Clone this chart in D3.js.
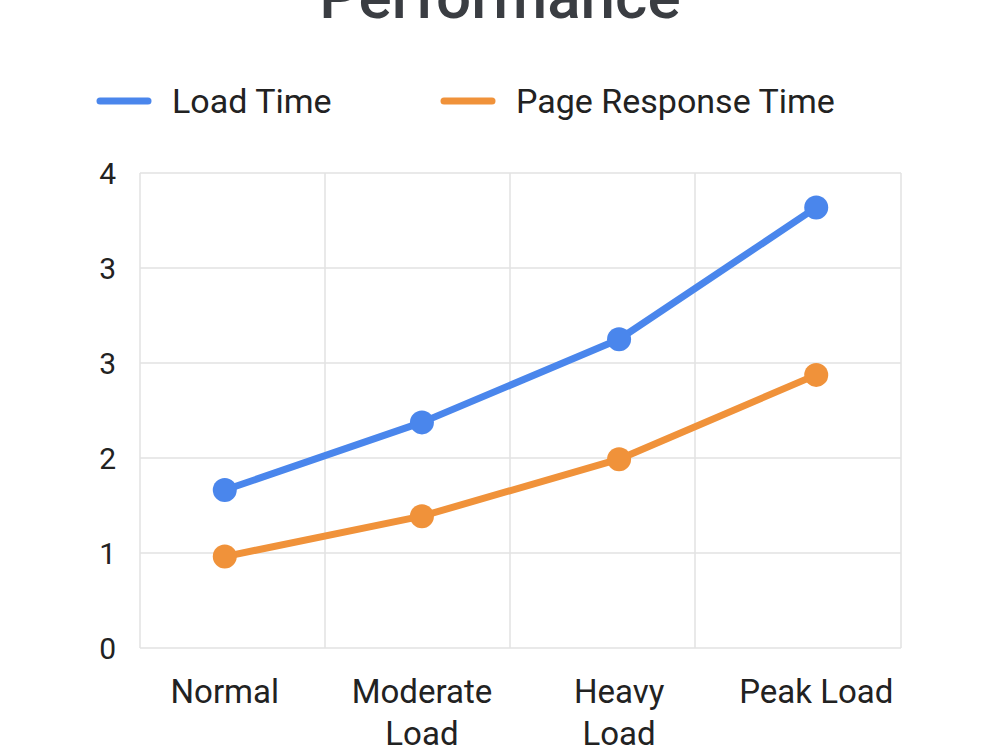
<!DOCTYPE html>
<head>
  <meta charset="utf-8">
  <script src="https://d3js.org/d3.v7.min.js"></script>
  <style>
    body { margin: 0; background: #fff; }
    svg { width: 1000px; height: 750px; font-family: Roboto, "Noto Sans", sans-serif; }
  </style>
</head>
<body>
  <svg></svg>
  <script>
    var categories = [['Normal'], ['Moderate', 'Load'], ['Heavy', 'Load'], ['Peak Load']];
    var loadTime = [1.33, 1.90, 2.60, 3.71];
    var pageResponse = [0.77, 1.11, 1.59, 2.30];
    var yTicks = [0, 0.8, 1.6, 2.4, 3.2, 4.0];
    var yTickLabels = ['0', '1', '2', '3', '3', '4'];
    var seriesNames = ['Load Time', 'Page Response Time'];
    var colors = ['#4a86ec', '#f0923a'];

    var svg = d3.select('svg');
    var plotL = 140, plotR = 901, plotT = 173, plotB = 648;

    var catNames = categories.map(function(c) { return c.join(' '); });
    var x = d3.scalePoint().domain(catNames).range([plotL, plotR]).padding(0.43);
    // vertical grid follows its own band spacing, border closes the box
    var xBand = d3.scaleBand().domain(catNames).range([plotL, 880]);
    var y = d3.scaleLinear().domain([0, 4]).range([plotB, plotT]);

    // title (clipped at the top)
    svg.append('text')
      .attr('x', 500).attr('y', 18)
      .attr('text-anchor', 'middle')
      .attr('font-size', 62).attr('font-weight', 500)
      .attr('fill', '#3a3d42')
      .text('Performance');

    // legend
    var legendX = [97, 441];
    seriesNames.forEach(function(name, i) {
      var g = svg.append('g').attr('transform', 'translate(' + legendX[i] + ',101)');
      g.append('line').attr('x1', 3).attr('x2', 51)
        .attr('stroke', colors[i]).attr('stroke-width', 7).attr('stroke-linecap', 'round');
      g.append('text').attr('x', 75).attr('y', 12)
        .attr('font-size', 34).attr('fill', '#222').text(name);
    });

    // grid
    var grid = svg.append('g').attr('stroke', '#e2e2e2').attr('stroke-width', 1.5);
    yTicks.forEach(function(t) {
      grid.append('line').attr('x1', plotL).attr('x2', plotR).attr('y1', y(t)).attr('y2', y(t));
    });
    catNames.forEach(function(c) {
      grid.append('line').attr('x1', xBand(c)).attr('x2', xBand(c)).attr('y1', plotT).attr('y2', plotB);
    });
    grid.append('line').attr('x1', plotR).attr('x2', plotR).attr('y1', plotT).attr('y2', plotB);

    // y labels
    svg.append('g').selectAll('text').data(yTicks).enter().append('text')
      .attr('x', 116).attr('y', function(d) { return y(d) + 11; })
      .attr('text-anchor', 'end').attr('font-size', 30).attr('fill', '#222')
      .text(function(d, i) { return yTickLabels[i]; });

    // x labels
    var xl = svg.append('g').selectAll('text').data(categories).enter().append('text')
      .attr('text-anchor', 'middle').attr('font-size', 33).attr('fill', '#222')
      .attr('transform', function(d) { return 'translate(' + x(d.join(' ')) + ',703)'; });
    xl.selectAll('tspan').data(function(d) { return d; })
      .enter().append('tspan')
      .attr('x', 0).attr('y', function(d, i) { return i * 42; })
      .text(function(d) { return d; });

    // lines and markers
    var line = d3.line()
      .x(function(d, i) { return x(catNames[i]); })
      .y(function(d) { return y(d); });
    [loadTime, pageResponse].forEach(function(vals, s) {
      svg.append('path').datum(vals)
        .attr('d', line).attr('fill', 'none')
        .attr('stroke', colors[s]).attr('stroke-width', 7)
        .attr('stroke-linejoin', 'round').attr('stroke-linecap', 'round');
      svg.append('g').selectAll('circle').data(vals).enter().append('circle')
        .attr('cx', function(d, i) { return x(catNames[i]); })
        .attr('cy', function(d) { return y(d); })
        .attr('r', 12).attr('fill', colors[s]);
    });
  </script>
</body>
